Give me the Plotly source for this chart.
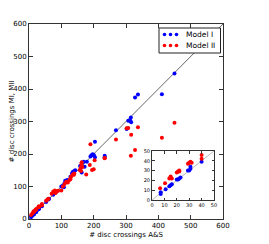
import plotly.graph_objects as go

# Model I (blue): A&S crossings vs model crossings
m1_x = [7, 7, 11, 14, 15, 16, 20, 21, 22, 23, 29, 30, 31, 31, 40,
        53, 60, 62, 75, 80, 85, 100, 105, 108, 110, 112, 118,
        128, 133, 135, 140, 143, 158, 163, 163, 169, 172, 179, 190, 193, 197, 201, 204, 204, 234, 234,
        269, 302, 307, 313, 315, 316, 328, 337, 411, 450]
m1_y = [8, 6, 11, 14, 15, 16, 21, 21, 22, 23, 30, 30, 32, 34, 39,
        52, 60, 62, 75, 80, 84, 100, 103, 98, 110, 118, 120,
        130, 140, 145, 148, 150, 163, 173, 143, 176, 161, 176, 192, 196, 199, 196, 190, 238, 195, 190,
        273, 277, 302, 303, 312, 298, 374, 383, 384, 448]

# Model II (red)
m2_x = [6.5, 10.5, 14, 15, 15, 16, 20, 21, 22, 22, 29, 30, 31, 32, 40, 40,
        53, 57, 60, 70, 75, 78, 80, 82, 85, 90, 100, 105, 110, 115, 120, 125,
        128, 130, 135, 139, 140, 157, 160, 161, 162, 163, 165, 177, 188, 190, 195, 200, 203, 234, 234,
        269, 302, 307, 315, 316, 328, 337, 411, 450]
m2_y = [12, 17, 22, 24, 23, 22, 28, 29, 29, 30, 37, 38, 39, 38, 46, 42,
        56, 60, 62, 78, 85, 82, 88, 80, 85, 87, 88, 100, 108, 115, 112, 120,
        122, 130, 136, 136, 140, 151, 158, 148, 168, 175, 160, 137, 166, 230, 151, 153, 181, 188, 187,
        245, 279, 280, 195, 259, 212, 282, 250, 296]

main_ticks = [0, 100, 200, 300, 400, 500, 600]
inset_ticks = [0, 10, 20, 30, 40, 50]
legend_names = ["Model I", "Model II"]

BLUE = "#0000ff"
RED = "#ff0000"
FONT = "DejaVu Sans"

fig = go.Figure()

fig.add_trace(go.Scatter(x=[0, 600], y=[0, 600], mode="lines",
                         line=dict(color="#666666", width=1), showlegend=False,
                         xaxis="x", yaxis="y", hoverinfo="skip"))
fig.add_trace(go.Scatter(x=m1_x, y=m1_y, mode="markers", name=legend_names[0],
                         marker=dict(color=BLUE, size=4, line=dict(width=0)),
                         xaxis="x", yaxis="y", showlegend=False))
fig.add_trace(go.Scatter(x=m2_x, y=m2_y, mode="markers", name=legend_names[1],
                         marker=dict(color=RED, size=4, line=dict(width=0)),
                         xaxis="x", yaxis="y", showlegend=False))

fig.add_trace(go.Scatter(x=[0, 50], y=[0, 50], mode="lines",
                         line=dict(color="#aaaaaa", width=0.8), showlegend=False,
                         xaxis="x2", yaxis="y2", hoverinfo="skip"))
fig.add_trace(go.Scatter(x=m1_x, y=m1_y, mode="markers",
                         marker=dict(color=BLUE, size=4, line=dict(width=0)),
                         xaxis="x2", yaxis="y2", showlegend=False))
fig.add_trace(go.Scatter(x=m2_x, y=m2_y, mode="markers",
                         marker=dict(color=RED, size=4, line=dict(width=0)),
                         xaxis="x2", yaxis="y2", showlegend=False))

# reference-pixel plot area (page has an 8px body margin, compensated below)
L, R, T, B = 29, 223, 24, 219
OFF = 8
def px(x):
    return (x - L) / (R - L)
def py(y):
    return (B - y) / (B - T)

shapes = [
    dict(type="rect", xref="paper", yref="paper",
         x0=px(159), x1=px(220.5), y0=py(53), y1=py(28),
         line=dict(color="#222222", width=1), fillcolor="white", layer="above"),
]
for row_y, col in [(34.5, BLUE), (45.5, RED)]:
    for cx in [164.5, 170.5, 176.5]:
        shapes.append(dict(type="circle", xref="paper", yref="paper",
                           xsizemode="pixel", ysizemode="pixel",
                           xanchor=px(cx), yanchor=py(row_y),
                           x0=-1.8, x1=1.8, y0=-1.8, y1=1.8,
                           fillcolor=col, line=dict(width=0), layer="above"))

annotations = [
    dict(xref="paper", yref="paper", x=px(184), y=py(34.5), text=legend_names[0],
         showarrow=False, xanchor="left", yanchor="middle",
         font=dict(family=FONT, size=7.5, color="black")),
    dict(xref="paper", yref="paper", x=px(184), y=py(45.5), text=legend_names[1],
         showarrow=False, xanchor="left", yanchor="middle",
         font=dict(family=FONT, size=7.5, color="black")),
]

axis_common = dict(showgrid=False, zeroline=False, showline=True, linecolor="#333333",
                   linewidth=1, mirror="ticks", ticks="inside", tickcolor="#333333",
                   automargin=False)

W, H = 269 - OFF, 244 - OFF
fig.update_layout(
    width=W, height=H,
    margin=dict(l=L - OFF, r=269 - R, t=T - OFF, b=244 - B, autoexpand=False),
    paper_bgcolor="white", plot_bgcolor="white",
    font=dict(family=FONT, size=7, color="black"),
    showlegend=False,
    xaxis=dict(domain=[0, 1], range=[0, 600], tickvals=main_ticks, ticklen=4,
               tickfont=dict(size=7), title=dict(text="# disc crossings A&S",
               font=dict(size=7), standoff=2), **axis_common),
    yaxis=dict(domain=[0, 1], range=[0, 600], tickvals=main_ticks, ticklen=4,
               tickfont=dict(size=7), title=dict(text="# disc crossings MI, MII",
               font=dict(size=7), standoff=4), **axis_common),
    xaxis2=dict(domain=[px(152), px(214)], range=[0, 50], tickvals=inset_ticks,
                ticklen=2.5, tickfont=dict(size=5), anchor="y2", **axis_common),
    yaxis2=dict(domain=[py(200), py(151)], range=[0, 50], tickvals=inset_ticks,
                ticklen=2.5, tickfont=dict(size=5), anchor="x2", **axis_common),
    shapes=shapes,
    annotations=annotations,
)

fig.write_html("out.html")
